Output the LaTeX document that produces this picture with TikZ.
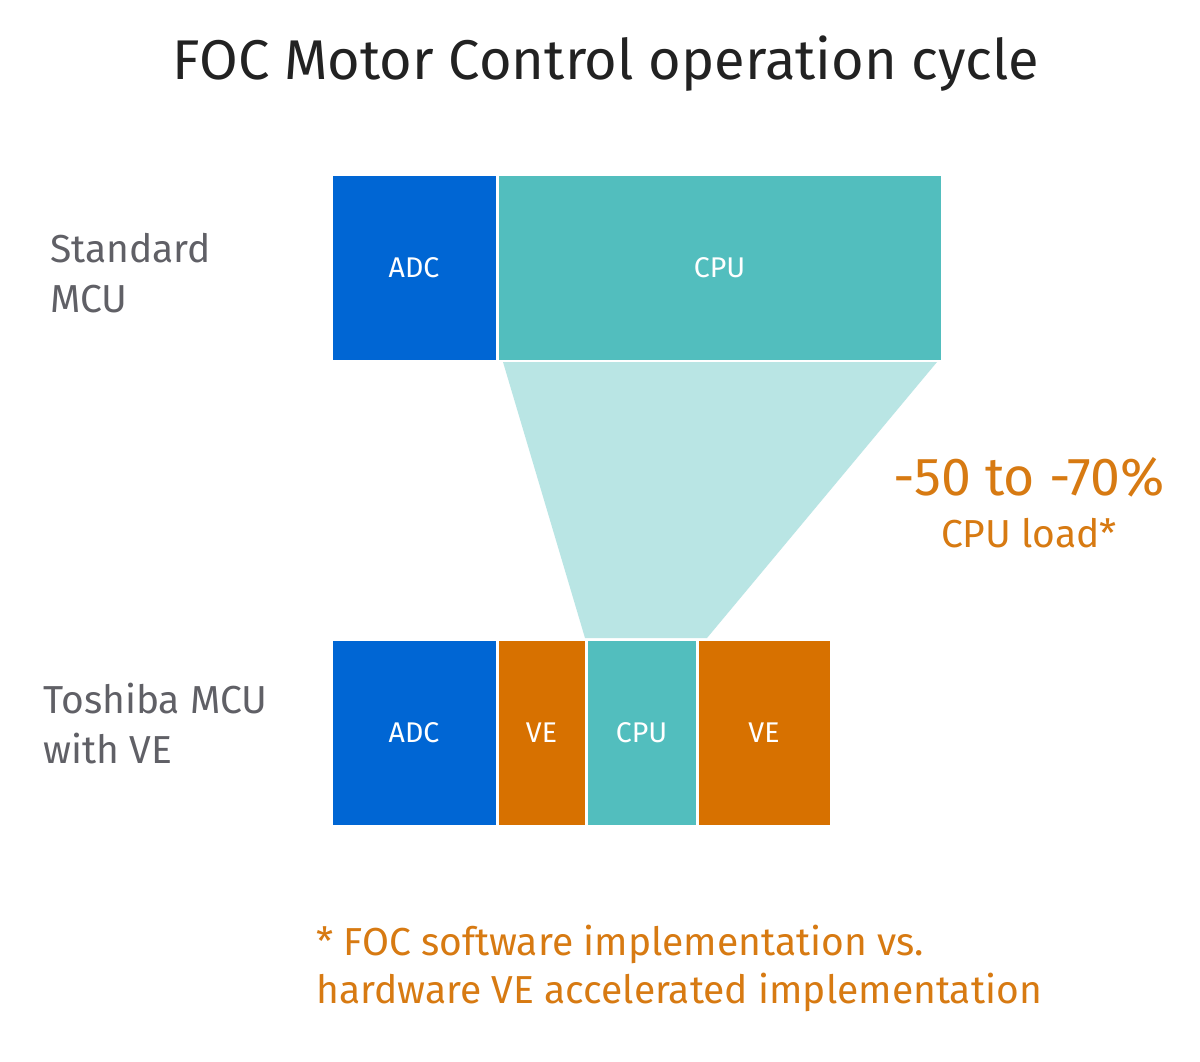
\documentclass[tikz,border=0pt]{standalone}
\usepackage{fontspec}
\setmainfont{Fira Sans}
\definecolor{adcblue}{HTML}{0066D4}
\definecolor{cputeal}{HTML}{52BEBE}
\definecolor{traplight}{HTML}{B9E5E4}
\definecolor{veorange}{HTML}{D77100}
\definecolor{txtorange}{HTML}{D77A12}
\definecolor{labgray}{HTML}{606066}
\definecolor{titledark}{HTML}{222222}
\begin{document}
\begin{tikzpicture}[x=1pt,y=-1pt,
  blk/.style={rectangle, inner sep=0pt, draw=white, line width=1pt, text=white,
    font=\fontsize{28.5}{34}\selectfont},
  rowlab/.style={anchor=base west, inner sep=0pt, text=labgray, align=left,
    font=\fontsize{39}{50}\selectfont},
  note/.style={inner sep=0pt, text=txtorange}]
\useasboundingbox (0,0) rectangle (1200,1062);
\fill[white] (0,0) rectangle (1200,1062);
% title
\node[inner sep=0pt, anchor=base, text=titledark, font=\fontsize{56}{66}\selectfont] (title) at (606,80) {FOC Motor Control operation cycle};
% trapezoid
\fill[traplight] (503,362) -- (937,362) -- (707,638) -- (585,638) -- cycle;
% top row
\node[blk, fill=adcblue, minimum width=164pt, minimum height=184pt] (adc1) at (414,268) {ADC};
\node[blk, fill=cputeal, minimum width=443pt, minimum height=184pt] (cpu1) at (719.5,268) {CPU};
% bottom row
\node[blk, fill=adcblue, minimum width=164pt, minimum height=185pt] (adc2) at (414,732.5) {ADC};
\node[blk, fill=veorange, minimum width=87pt, minimum height=185pt] (ve1) at (541.5,732.5) {VE};
\node[blk, fill=cputeal, minimum width=109pt, minimum height=185pt] (cpu2) at (641.5,732.5) {CPU};
\node[blk, fill=veorange, minimum width=132pt, minimum height=185pt] (ve2) at (764,732.5) {VE};
% row labels
\node[rowlab] (std) at (50,312) {Standard\\MCU};
\node[rowlab] (tosh) at (43,763) {Toshiba MCU\\with VE};
% reduction note
\node[note, anchor=base, font=\fontsize{53.5}{60}\selectfont] (pct) at (1029,495) {-50 to -70\%};
\node[note, anchor=base, font=\fontsize{39}{44}\selectfont] (load) at (1029,547) {CPU load*};
% footnote
\node[note, anchor=base west, align=left, font=\fontsize{39}{48}\selectfont] (foot) at (316,1003) {* FOC software implementation vs.\\hardware VE accelerated implementation};
\end{tikzpicture}
\end{document}
